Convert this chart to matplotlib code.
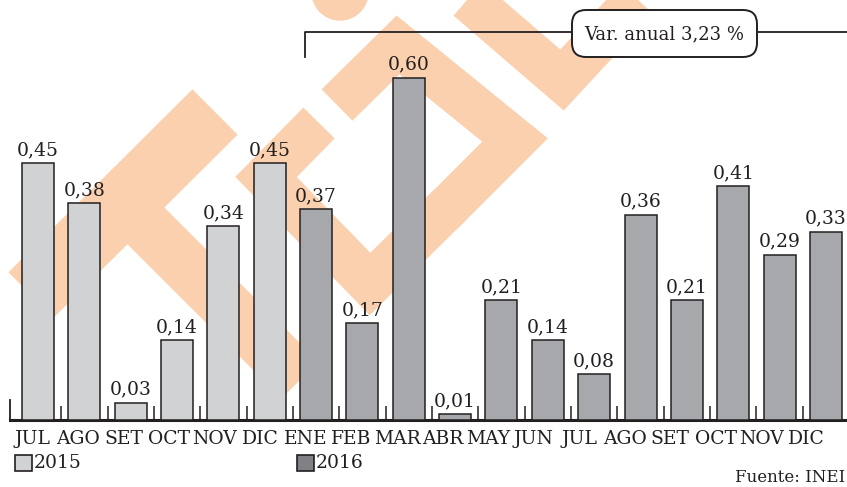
import numpy as np
import matplotlib.pyplot as plt
from matplotlib.patches import Circle, Rectangle, FancyBboxPatch

# datos: variación mensual del IPC (%)
meses = ['JUL', 'AGO', 'SET', 'OCT', 'NOV', 'DIC', 'ENE', 'FEB', 'MAR',
         'ABR', 'MAY', 'JUN', 'JUL', 'AGO', 'SET', 'OCT', 'NOV', 'DIC']
valores = [0.45, 0.38, 0.03, 0.14, 0.34, 0.45, 0.37, 0.17, 0.60,
           0.01, 0.21, 0.14, 0.08, 0.36, 0.21, 0.41, 0.29, 0.33]
anios = ['2015'] * 6 + ['2016'] * 12
var_anual = 3.23
fuente = 'Fuente: INEI'

colores = {'2015': '#d1d2d4', '2016': '#a7a8ab'}
legend_col = {'2015': '#d1d2d4', '2016': '#808184'}
borde = '#231f20'
naranja = '#fbd0ae'
fam = 'DejaVu Serif'


def coma(v):
    return f'{v:.2f}'.replace('.', ',')


W, H = 847, 487
fig = plt.figure(figsize=(W / 100, H / 100), dpi=100)

# fondo con marca de agua (coordenadas en pixeles)
wm = fig.add_axes([0, 0, 1, 1], zorder=0)
wm.set_xlim(0, W)
wm.set_ylim(H, 0)
wm.axis('off')
trazos = [
    ([(31, 295), (215, 112)], 64),
    ([(125, 205), (300, 380)], 52),
    ([(337, 105), (398, 45), (515, 140), (442, 213)], 44),
    ([(319, 123), (266, 177), (370, 284), (450, 205)], 44),
    ([(440, -25), (562, 80), (650, -15)], 44),
]
for pts, w in trazos:
    xs, ys = zip(*pts)
    wm.plot(xs, ys, color=naranja, lw=w * 0.72, solid_capstyle='butt',
            solid_joinstyle='miter')
wm.add_patch(Circle((340, -8), 28, color=naranja))

# barras
ax = fig.add_axes([10 / W, 67 / H, (W - 10) / W, 420 / H], zorder=1)
ax.patch.set_visible(False)
x = np.arange(len(meses))
bars = ax.bar(x, valores, width=0.69, color=[colores[a] for a in anios],
              edgecolor=borde, linewidth=1.1, zorder=3)
ax.bar_label(bars, labels=[coma(v) for v in valores],
             padding=3, fontsize=13.5, family=fam, color=borde)
ax.set_xlim(-0.604, 17.455)
ax.set_ylim(0, 0.7368)

for s in ['top', 'right', 'left']:
    ax.spines[s].set_visible(False)
ax.spines['bottom'].set_linewidth(2.2)
ax.spines['bottom'].set_color(borde)
ax.set_yticks([])
ax.set_xticks(x[:-1] + 0.5)
ax.tick_params(axis='x', which='major', direction='in', length=10, width=1.1,
               color=borde, labelbottom=False)
# las etiquetas del original van un poco más juntas que las barras
ax.set_xticks(x * 0.982 - 0.11, minor=True)
ax.set_xticklabels(meses, minor=True, fontsize=13.5, family=fam, color=borde)
ax.tick_params(axis='x', which='minor', length=0, pad=7)
ax.plot([-0.6, -0.6], [0, 0.035], color=borde, lw=1.3, clip_on=False)

# capa superior: corchete, recuadro, leyenda y fuente (pixeles)
top = fig.add_axes([0, 0, 1, 1], zorder=2)
top.set_xlim(0, W)
top.set_ylim(H, 0)
top.axis('off')
top.plot([305, 305, W], [57, 32, 32], color=borde, lw=1.3, zorder=1)
top.add_patch(FancyBboxPatch((572, 10), 185, 47,
                             boxstyle='round,pad=0,rounding_size=14',
                             fc='white', ec=borde, lw=1.4, zorder=3))
top.text(664, 34, f'Var. anual {coma(var_anual)} %',
         ha='center', va='center', fontsize=13, family=fam, color=borde, zorder=4)

for anio, px in [('2015', 15), ('2016', 297)]:
    top.add_patch(Rectangle((px, 455), 17, 16, fc=legend_col[anio], ec=borde, lw=1.2))
    top.text(px + 19, 463, anio, ha='left', va='center', fontsize=13.5,
             family=fam, color=borde)

top.text(845, 478, fuente, ha='right', va='center', fontsize=12, family=fam,
         color=borde)

plt.savefig('out.png', dpi=100)
plt.close()
